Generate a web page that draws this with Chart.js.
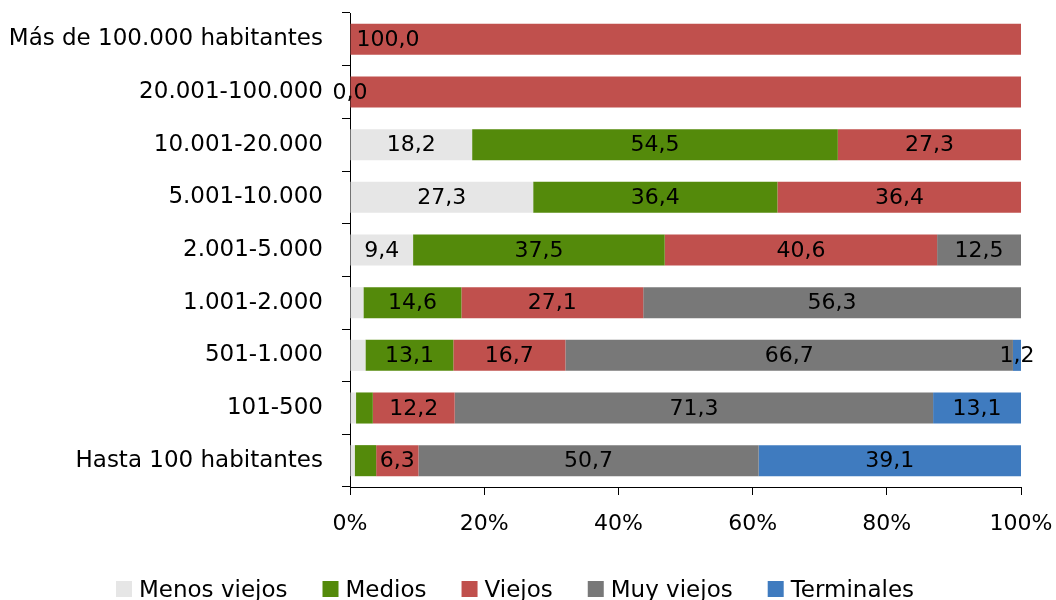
<!DOCTYPE html>
<html><head><meta charset="utf-8">
<script src="https://cdn.jsdelivr.net/npm/chart.js@4/dist/chart.umd.min.js"></script>
<style>html,body{margin:0;padding:0;background:#fff}#wrap{width:1056px;height:600px;position:relative}</style>
</head><body><div id="wrap"><canvas id="c" width="1056" height="600"></canvas></div>
<script>
const categories = ["Más de 100.000 habitantes","20.001-100.000","10.001-20.000","5.001-10.000","2.001-5.000","1.001-2.000","501-1.000","101-500","Hasta 100 habitantes"];
const menosViejos = [null, 0, 18.2, 27.3, 9.4, 2.0, 2.3, 0.9, 0.7];
const medios      = [null, null, 54.5, 36.4, 37.5, 14.6, 13.1, 2.5, 3.2];
const viejos      = [100.0, 100.0, 27.3, 36.4, 40.6, 27.1, 16.7, 12.2, 6.3];
const muyViejos   = [null, null, null, null, 12.5, 56.3, 66.7, 71.3, 50.7];
const terminales  = [null, null, null, null, null, null, 1.2, 13.1, 39.1];
const seriesNames = ["Menos viejos","Medios","Viejos","Muy viejos","Terminales"];
const xTicks = [0, 20, 40, 60, 80, 100];
// segments whose value label is not shown: [series, row]
const hiddenLabels = [[0,5],[0,6],[0,7],[0,8],[1,7],[1,8],[2,1]];
// labels placed at the inside base of the segment
const baseLabels = [[2,0]];

const colors = ["#e6e6e6","#548a0b","#c0504d","#787878","#3f7bbf"];
const FONT = '"DejaVu Sans", sans-serif';
const hiddenSet = new Set(hiddenLabels.map(p=>p.join(':')));
const baseSet = new Set(baseLabels.map(p=>p.join(':')));

const labelPlugin = {
  id: 'segLabels',
  afterDatasetsDraw(chart) {
    const ctx = chart.ctx;
    ctx.save();
    ctx.font = '22px ' + FONT;
    ctx.fillStyle = '#000';
    ctx.textBaseline = 'middle';
    chart.data.datasets.forEach((ds, di) => {
      const meta = chart.getDatasetMeta(di);
      meta.data.forEach((el, i) => {
        const v = ds.data[i];
        if (v === null || v === undefined) return;
        const key = di + ':' + i;
        if (hiddenSet.has(key)) return;
        const txt = v.toFixed(1).replace('.', ',');
        const p = el.getProps(['x','base','y'], true);
        if (baseSet.has(key)) {
          ctx.textAlign = 'left';
          ctx.fillText(txt, Math.min(p.x, p.base) + 6, p.y + 1);
        } else {
          ctx.textAlign = 'center';
          ctx.fillText(txt, (p.x + p.base) / 2, p.y + 1);
        }
      });
    });
    ctx.restore();
  }
};

const legendPlugin = {
  id: 'bottomLegend',
  afterDraw(chart) {
    const ctx = chart.ctx;
    ctx.save();
    ctx.font = '23px ' + FONT;
    const box = 16, gapText = 7, gapItem = 35;
    const items = chart.data.datasets.map(d => ({text: d.label, color: d.backgroundColor, w: ctx.measureText(d.label).width}));
    const total = items.reduce((s, it) => s + box + gapText + it.w, 0) + gapItem * (items.length - 1);
    let x = 515 - total / 2;
    ctx.textBaseline = 'alphabetic';
    ctx.textAlign = 'left';
    items.forEach(it => {
      ctx.fillStyle = it.color;
      ctx.fillRect(x, 581, box, box);
      ctx.fillStyle = '#000';
      ctx.fillText(it.text, x + box + gapText, 597);
      x += box + gapText + it.w + gapItem;
    });
    ctx.restore();
  }
};

const seriesData = [menosViejos, medios, viejos, muyViejos, terminales];
new Chart(document.getElementById('c'), {
  type: 'bar',
  data: {
    labels: categories,
    datasets: seriesNames.map((n, k) => ({
      label: n, data: seriesData[k], backgroundColor: colors[k], borderWidth: 0,
      barPercentage: 0.59, categoryPercentage: 1.0
    }))
  },
  options: {
    indexAxis: 'y',
    responsive: false,
    animation: false,
    devicePixelRatio: 1,
    layout: { padding: { top: 13, right: 35, left: 0, bottom: 0 } },
    plugins: { legend: { display: false }, tooltip: { enabled: false } },
    scales: {
      x: {
        stacked: true, min: 0, max: 100, position: 'bottom',
        afterBuildTicks(s) { s.ticks = xTicks.map(v => ({value: v})); },
        ticks: { callback: v => v + '%', color: '#000', font: {family: FONT, size: 22}, padding: 16, maxRotation: 0, autoSkip: false },
        grid: { drawOnChartArea: false, drawTicks: true, tickLength: 8, color: '#000', tickColor: '#000' },
        border: { display: true, color: '#000', width: 1 },
        afterFit(s) { s.height = 113; s.paddingLeft = 0; s.paddingRight = 0; s.paddingTop = 0; s.paddingBottom = 0; }
      },
      y: {
        stacked: true,
        ticks: { color: '#000', font: {family: FONT, size: 23}, padding: 19, autoSkip: false },
        grid: { offset: true, drawOnChartArea: false, drawTicks: true, tickLength: 8, color: '#000', tickColor: '#000' },
        border: { display: true, color: '#000', width: 1 },
        afterFit(s) { s.width = 350; s.paddingLeft = 0; s.paddingRight = 0; s.paddingTop = 0; s.paddingBottom = 0; }
      }
    }
  },
  plugins: [labelPlugin, legendPlugin]
});
</script></body></html>
